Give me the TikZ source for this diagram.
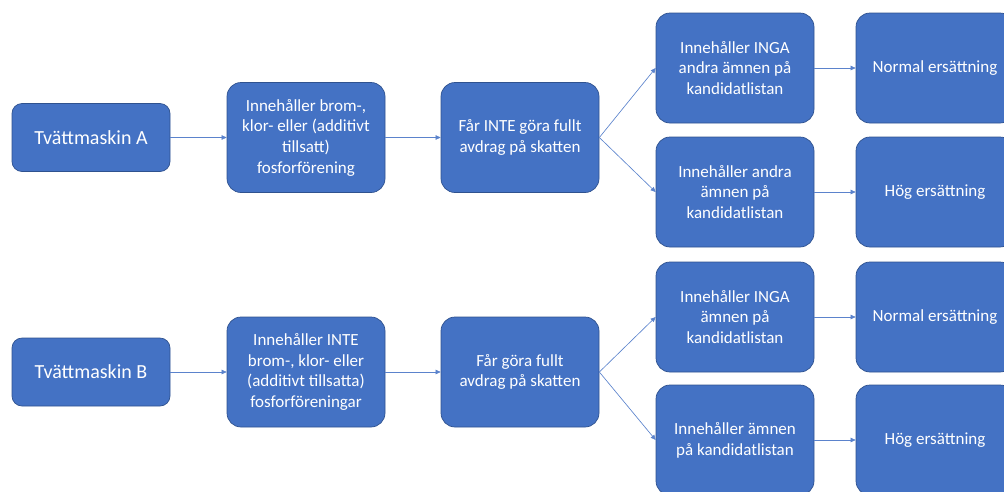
\documentclass[tikz,border=0pt]{standalone}
\usepackage{fontspec}
\setmainfont{Carlito}
\usetikzlibrary{arrows.meta}
\definecolor{obox}{HTML}{4472C4}
\definecolor{oedge}{HTML}{2F528F}
\definecolor{oline}{HTML}{5B83CC}
\begin{document}
\begin{tikzpicture}[x=1pt,y=-1pt,
  box/.style={rectangle, rounded corners=14pt, fill=obox, draw=oedge, line width=0.7pt,
    text=white, minimum width=158pt, minimum height=110pt, inner sep=0pt, align=center,
    font=\fontsize{17}{20.7}\selectfont},
  smallbox/.style={box, minimum height=68pt, rounded corners=10pt,
    font=\fontsize{20}{24}\selectfont},
  conn/.style={draw=oline, line width=0.65pt, -{Triangle[length=5pt,width=4.5pt]}}]
\useasboundingbox (0,0) rectangle (1004,491);
\clip (0,0) rectangle (1004,491);
% row A
\node[smallbox] (ta) at (91,137.5) {Tvättmaskin A};
\node[box] (a2) at (306,137.5) {Innehåller brom-,\\klor- eller (additivt\\tillsatt)\\fosforförening};
\node[box] (a3) at (520,137.5) {Får INTE göra fullt\\avdrag på skatten};
\node[box] (a4) at (735,68) {Innehåller INGA\\andra ämnen på\\kandidatlistan};
\node[box] (a5) at (735,192) {Innehåller andra\\ämnen på\\kandidatlistan};
\node[box] (a6) at (935,68) {Normal ersättning};
\node[box] (a7) at (935,192) {Hög ersättning};
% row B
\node[smallbox] (tb) at (91,372) {Tvättmaskin B};
\node[box] (b2) at (306,372) {Innehåller INTE\\brom-, klor- eller\\(additivt tillsatta)\\fosforföreningar};
\node[box] (b3) at (520,372) {Får göra fullt\\avdrag på skatten};
\node[box] (b4) at (735,317) {Innehåller INGA\\ämnen på\\kandidatlistan};
\node[box] (b5) at (735,440) {Innehåller ämnen\\på kandidatlistan};
\node[box] (b6) at (935,317) {Normal ersättning};
\node[box] (b7) at (935,440) {Hög ersättning};
% connectors
\draw[conn] (ta.east) -- (a2.west);
\draw[conn] (a2.east) -- (a3.west);
\draw[conn] (a3.east) -- (a4.west);
\draw[conn] (a3.east) -- (a5.west);
\draw[conn] (a4.east) -- (a6.west);
\draw[conn] (a5.east) -- (a7.west);
\draw[conn] (tb.east) -- (b2.west);
\draw[conn] (b2.east) -- (b3.west);
\draw[conn] (b3.east) -- (b4.west);
\draw[conn] (b3.east) -- (b5.west);
\draw[conn] (b4.east) -- (b6.west);
\draw[conn] (b5.east) -- (b7.west);
\end{tikzpicture}
\end{document}
